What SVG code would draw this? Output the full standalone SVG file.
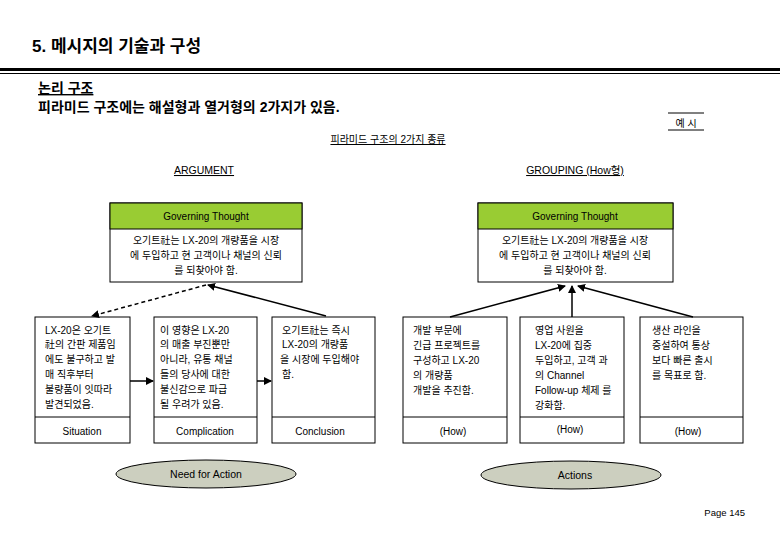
<svg xmlns="http://www.w3.org/2000/svg" width="780" height="540" viewBox="0 0 780 540">
<style>
text{font-family:"Liberation Sans","Noto Sans CJK KR",sans-serif;fill:#000}
.b{fill:#fff;stroke:#000;stroke-width:1}
.h{fill:#99cc33;stroke:#000;stroke-width:1}
.t{font-size:10px}
.m{font-size:10.5px}
.c{text-anchor:middle}
.e{fill:#cccfbf;stroke:#000;stroke-width:1}
.l{stroke:#000;stroke-width:1.5;fill:none}
</style>
<defs><marker id="a" markerWidth="8" markerHeight="8" refX="7" refY="4" orient="auto" markerUnits="userSpaceOnUse"><path d="M0,0L8,4L0,8z"/></marker></defs>
<rect width="780" height="540" fill="#fff"/>
<text x="32" y="52" font-size="17" font-weight="bold">5. 메시지의 기술과 구성</text>
<rect x="0" y="68" width="780" height="3"/><rect x="0" y="73" width="780" height="1"/>
<text x="38" y="93" font-size="14" font-weight="bold" text-decoration="underline">논리 구조</text>
<text x="38" y="112" font-size="14" font-weight="bold">피라미드 구조에는 해설형과 열거형의 2가지가 있음.</text>
<line x1="668" y1="113" x2="704" y2="113" stroke="#000"/><line x1="668" y1="130" x2="704" y2="130" stroke="#000"/>
<text x="686" y="127" class="t c">예 시</text>
<text x="388" y="143" class="t c" text-decoration="underline">피라미드 구조의 2가지 종류</text>
<text x="204" y="174" class="m c" text-decoration="underline">ARGUMENT</text>
<text x="575" y="174" class="m c" text-decoration="underline">GROUPING (How형)</text>
<g id="gt1"><rect class="b" x="110" y="203" width="192" height="79"/><rect class="h" x="110" y="203" width="192" height="26"/>
<text x="206" y="220" class="t c">Governing Thought</text>
<text x="206" y="244" class="t c">오기트社는 LX-20의 개량품을 시장</text><text x="206" y="259" class="t c">에 두입하고 현 고객이나 채널의 신뢰</text><text x="206" y="274" class="t c">를 되찾아야 함.</text></g>
<g id="gt2"><rect class="b" x="478" y="203" width="195" height="79"/><rect class="h" x="478" y="203" width="195" height="26"/>
<text x="575" y="220" class="t c">Governing Thought</text>
<text x="575" y="244" class="t c">오기트社는 LX-20의 개량품을 시장</text><text x="575" y="259" class="t c">에 두입하고 현 고객이나 채널의 신뢰</text><text x="575" y="274" class="t c">를 되찾아야 함.</text></g>
<g id="s"><rect class="b" x="35" y="317" width="95" height="126"/><line x1="35" y1="417" x2="130" y2="417" stroke="#000"/>
<text class="t" x="45" y="334">LX-20은 오기트</text><text class="t" x="45" y="348">社의 간판 제품임</text><text class="t" x="45" y="363">에도 불구하고 발</text><text class="t" x="45" y="378">매 직후부터</text><text class="t" x="45" y="393">불량품이 잇따라</text><text class="t" x="45" y="408">발견되었음.</text>
<text class="t c" x="82" y="435">Situation</text></g>
<g id="cp"><rect class="b" x="154" y="317" width="103" height="126"/><line x1="154" y1="417" x2="257" y2="417" stroke="#000"/>
<text class="t" x="160" y="334">이 영향은 LX-20</text><text class="t" x="160" y="348">의 매출 부진뿐만</text><text class="t" x="160" y="363">아니라, 유통 채널</text><text class="t" x="160" y="378">들의 당사에 대한</text><text class="t" x="160" y="393">불신감으로 파급</text><text class="t" x="160" y="408">될 우려가 있음.</text>
<text class="t c" x="205" y="435">Complication</text></g>
<g id="cn"><rect class="b" x="272" y="317" width="103" height="126"/><line x1="272" y1="417" x2="375" y2="417" stroke="#000"/>
<text class="t" x="282" y="334">오기트社는 즉시</text><text class="t" x="282" y="348">LX-20의 개량품</text><text class="t" x="280" y="363">을 시장에 두입해야</text><text class="t" x="282" y="378">함.</text>
<text class="t c" x="320" y="435">Conclusion</text></g>
<g id="h1"><rect class="b" x="403" y="317" width="104" height="126"/><line x1="403" y1="417" x2="507" y2="417" stroke="#000"/>
<text class="t" x="413" y="334">개발 부문에</text><text class="t" x="413" y="349">긴급 프로젝트를</text><text class="t" x="413" y="364">구성하고 LX-20</text><text class="t" x="413" y="379">의 개량품</text><text class="t" x="413" y="394">개발을 추진함.</text>
<text class="t c" x="453" y="435">(How)</text></g>
<g id="h2"><rect class="b" x="520" y="317" width="104" height="126"/><line x1="520" y1="417" x2="624" y2="417" stroke="#000"/>
<text class="t" x="535" y="334">영업 사원을</text><text class="t" x="535" y="349">LX-20에 집중</text><text class="t" x="535" y="364">두입하고, 고객 과</text><text class="t" x="535" y="379">의 Channel</text><text class="t" x="535" y="394">Follow-up 체제 를</text><text class="t" x="535" y="409">강화함.</text>
<text class="t c" x="570" y="433">(How)</text></g>
<g id="h3"><rect class="b" x="640" y="317" width="103" height="126"/><line x1="640" y1="417" x2="743" y2="417" stroke="#000"/>
<text class="t" x="652" y="334">생산 라인을</text><text class="t" x="652" y="349">증설하여 통상</text><text class="t" x="652" y="364">보다 빠른 출시</text><text class="t" x="652" y="379">를 목표로 함.</text>
<text class="t c" x="688" y="435">(How)</text></g>
<g id="na"><ellipse class="e" cx="206" cy="474" rx="90" ry="14"/><text class="m c" x="206" y="478">Need for Action</text></g>
<g id="ac"><ellipse class="e" cx="571" cy="475" rx="90" ry="14"/><text class="m c" x="575" y="479">Actions</text></g>
<g id="connectors">
<line class="l" x1="206" y1="285" x2="92" y2="316" stroke-dasharray="4,3" marker-end="url(#a)"/>
<line class="l" x1="326" y1="316" x2="208" y2="285" marker-end="url(#a)"/>
<line class="l" x1="130" y1="381" x2="153" y2="381" marker-end="url(#a)"/>
<line class="l" x1="257" y1="381" x2="271" y2="381" marker-end="url(#a)"/>
<line class="l" x1="450" y1="317" x2="565" y2="286" marker-end="url(#a)"/>
<line class="l" x1="572" y1="317" x2="572" y2="286" marker-end="url(#a)"/>
<line class="l" x1="693" y1="317" x2="578" y2="286" marker-end="url(#a)"/>
</g>
<text x="745" y="516" font-size="9.5" text-anchor="end">Page 145</text>
</svg>
